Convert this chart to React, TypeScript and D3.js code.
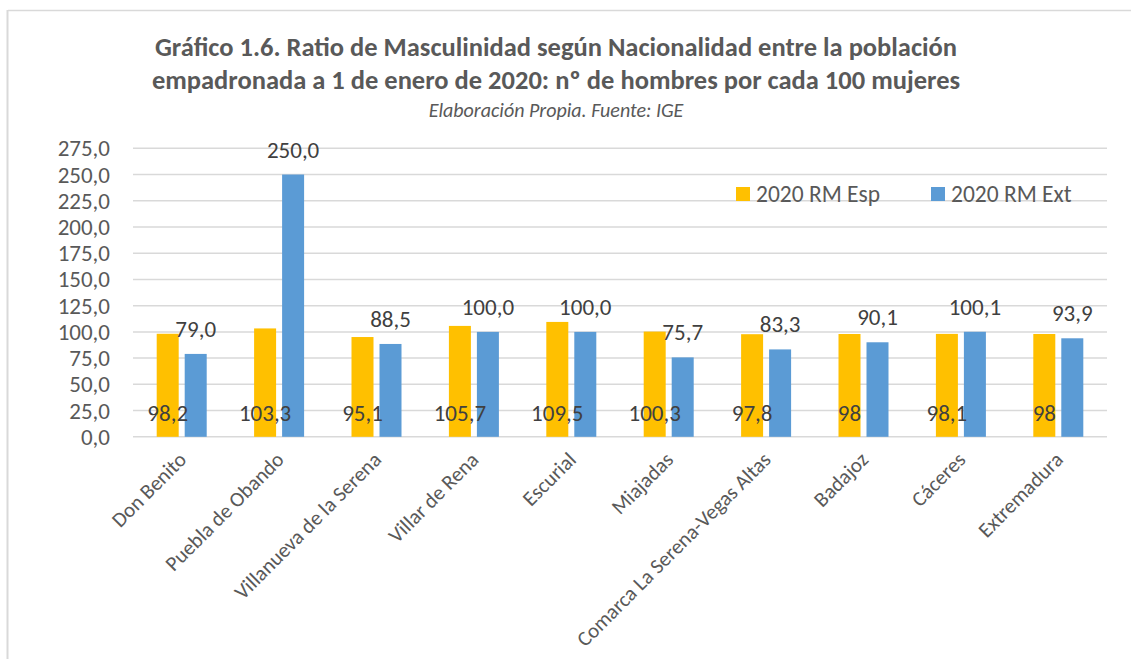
import React from "react";
import * as d3 from "d3";

const categories = [
  "Don Benito",
  "Puebla de Obando",
  "Villanueva de la Serena",
  "Villar de Rena",
  "Escurial",
  "Miajadas",
  "Comarca La Serena-Vegas Altas",
  "Badajoz",
  "Cáceres",
  "Extremadura",
];
const espValues = [98.2, 103.3, 95.1, 105.7, 109.5, 100.3, 97.8, 98, 98.1, 98];
const extValues = [79.0, 250.0, 88.5, 100.0, 100.0, 75.7, 83.3, 90.1, 100.1, 93.9];
const espLabels = ["98,2", "103,3", "95,1", "105,7", "109,5", "100,3", "97,8", "98", "98,1", "98"];
const extLabels = ["79,0", "250,0", "88,5", "100,0", "100,0", "75,7", "83,3", "90,1", "100,1", "93,9"];
const yTicks = [0, 25, 50, 75, 100, 125, 150, 175, 200, 225, 250, 275];
const seriesNames = ["2020 RM Esp", "2020 RM Ext"];
const colors = ["#FFC000", "#5B9BD5"];

const W = 1131;
const H = 659;
const FONT = "Carlito, Calibri, Lato, 'Open Sans', sans-serif";

export default function App() {
  const left = 133;
  const right = 1107;
  const top = 148.3;
  const bottom = 436.8;
  const x = d3.scaleBand<string>().domain(categories).range([left, right]).padding(0);
  const y = d3.scaleLinear().domain([0, 275]).range([bottom, top]);
  const barW = 22;
  const off = 14;
  const fmt = (v: number) => d3.format(".1f")(v).replace(".", ",");

  return (
    <svg
      width={W}
      height={H}
      style={{ position: "absolute", left: 0, top: 0, background: "#fff" }}
      fontFamily={FONT}
    >
      {/* frame */}
      <line x1={8} x2={W} y1={10.5} y2={10.5} stroke="#d9d9d9" strokeWidth={1.5} />
      <line x1={7.5} x2={7.5} y1={10} y2={H} stroke="#d9d9d9" strokeWidth={2} />

      {/* title */}
      <text x={556} y={56} textAnchor="middle" fontSize={26.5} fontWeight="bold" fill="#595959">
        Gráfico 1.6. Ratio de Masculinidad según Nacionalidad entre la población
      </text>
      <text x={556} y={89} textAnchor="middle" fontSize={26.5} fontWeight="bold" fill="#595959">
        empadronada a 1 de enero de 2020: nº de hombres por cada 100 mujeres
      </text>
      <text x={556} y={117} textAnchor="middle" fontSize={20} fontStyle="italic" fill="#595959">
        Elaboración Propia. Fuente: IGE
      </text>

      {/* gridlines & y ticks */}
      {yTicks.map((t) => (
        <g key={t}>
          <line x1={left} x2={right} y1={y(t)} y2={y(t)} stroke="#d9d9d9" strokeWidth={1.5} />
          <text x={110} y={y(t)} dy="0.35em" textAnchor="end" fontSize={23} fill="#595959">
            {fmt(t)}
          </text>
        </g>
      ))}

      {/* bars */}
      {categories.map((c, i) => {
        const cx = (x(c) as number) + x.bandwidth() / 2;
        return (
          <g key={c}>
            <rect x={cx - off - barW / 2} y={y(espValues[i])} width={barW} height={bottom - y(espValues[i])} fill={colors[0]} />
            <rect x={cx + off - barW / 2} y={y(extValues[i])} width={barW} height={bottom - y(extValues[i])} fill={colors[1]} />
          </g>
        );
      })}

      {/* data labels */}
      {categories.map((c, i) => {
        const cx = (x(c) as number) + x.bandwidth() / 2;
        return (
          <g key={c + "l"} fontSize={23} fill="#404040">
            <text x={cx - off} y={413} dy="0.35em" textAnchor="middle">
              {espLabels[i]}
            </text>
            <text x={cx + off} y={y(extValues[i]) - 25} dy="0.35em" textAnchor="middle">
              {extLabels[i]}
            </text>
          </g>
        );
      })}

      {/* category labels */}
      {categories.map((c) => {
        const cx = (x(c) as number) + x.bandwidth() / 2;
        const ax = cx + 6;
        const ay = 461;
        return (
          <text key={c + "c"} x={ax} y={ay} textAnchor="end" fontSize={21} fill="#595959" transform={`rotate(-45 ${ax} ${ay})`}>
            {c}
          </text>
        );
      })}

      {/* legend */}
      {seriesNames.map((s, i) => {
        const lx = i === 0 ? 736 : 931;
        return (
          <g key={s}>
            <rect x={lx} y={187} width={14} height={14} fill={colors[i]} />
            <text x={lx + 20} y={194} dy="0.35em" fontSize={23.5} fill="#595959">
              {s}
            </text>
          </g>
        );
      })}
    </svg>
  );
}
